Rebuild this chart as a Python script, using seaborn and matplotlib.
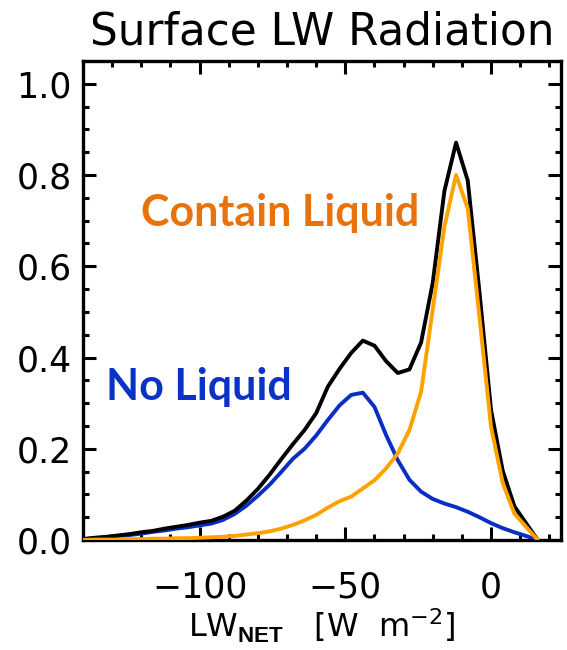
import numpy as np
import pandas as pd
import matplotlib
matplotlib.use("Agg")
import matplotlib.pyplot as plt
import seaborn as sns
from matplotlib.ticker import MultipleLocator

# ---- data (bin centres every 4 W m-2) ----
lw_net = list(range(-140, 17, 4))
total = [0.002, 0.005, 0.007, 0.010, 0.013, 0.017, 0.020, 0.025, 0.029, 0.033,
         0.038, 0.042, 0.051, 0.064, 0.086, 0.112, 0.143, 0.177, 0.210, 0.241,
         0.278, 0.336, 0.375, 0.410, 0.437, 0.426, 0.392, 0.366, 0.374, 0.433,
         0.564, 0.765, 0.871, 0.788, 0.545, 0.285, 0.152, 0.074, 0.037, 0.0]
no_liquid = [0.002, 0.004, 0.006, 0.009, 0.011, 0.014, 0.018, 0.021, 0.025, 0.028,
             0.032, 0.036, 0.044, 0.057, 0.075, 0.097, 0.121, 0.149, 0.178, 0.200,
             0.229, 0.263, 0.295, 0.318, 0.323, 0.292, 0.230, 0.175, 0.132, 0.106,
             0.090, 0.080, 0.072, 0.062, 0.050, 0.037, 0.026, 0.017, 0.009, 0.0]
contain_liquid = [0.000, 0.001, 0.001, 0.001, 0.002, 0.002, 0.003, 0.003, 0.004, 0.004,
                  0.005, 0.006, 0.007, 0.009, 0.012, 0.015, 0.019, 0.025, 0.033, 0.043,
                  0.055, 0.071, 0.085, 0.095, 0.113, 0.131, 0.157, 0.190, 0.241, 0.325,
                  0.506, 0.687, 0.800, 0.727, 0.490, 0.248, 0.125, 0.058, 0.029, 0.0]

title = "Surface LW Radiation"
xlabel = r"LW$_{\mathbf{NET}}$   [W  m$^{-2}$]"
label_contain = "Contain Liquid"
label_no = "No Liquid"
xticks = [-100, -50, 0]
yticks = [0.0, 0.2, 0.4, 0.6, 0.8, 1.0]

sns.set_style("ticks")
plt.rcParams["font.family"] = ["DejaVu Sans"]
plt.rcParams["text.color"] = "black"
plt.rcParams["axes.labelcolor"] = "black"
plt.rcParams["xtick.color"] = "black"
plt.rcParams["ytick.color"] = "black"
plt.rcParams["mathtext.fontset"] = "custom"
plt.rcParams["mathtext.rm"] = "DejaVu Sans"
plt.rcParams["mathtext.bf"] = "Liberation Sans:bold"

df = pd.DataFrame({"x": lw_net, "total": total, "no": no_liquid, "contain": contain_liquid})

fig = plt.figure(figsize=(5.67, 6.5), dpi=100)
ax = fig.add_axes([0.1464, 0.1692, 0.8430, 0.7370])

lw = 2.8
sns.lineplot(data=df, x="x", y="total", ax=ax, color="black", linewidth=lw, zorder=3)
sns.lineplot(data=df, x="x", y="no", ax=ax, color="#0A2EC4", linewidth=lw, zorder=2)
sns.lineplot(data=df, x="x", y="contain", ax=ax, color="#FFA200", linewidth=lw, zorder=4)

ax.set_xlim(-140, 24)
ax.set_ylim(0, 1.05)
ax.set_xticks(xticks)
ax.set_yticks(yticks)
ax.set_yticklabels([f"{v:.1f}" for v in yticks])
ax.xaxis.set_minor_locator(MultipleLocator(10))
ax.yaxis.set_minor_locator(MultipleLocator(0.05))
ax.tick_params(which="both", direction="in", top=True, right=True, width=2.2,
               color="black", labelcolor="black")
ax.tick_params(which="major", length=9.5, labelsize=25, pad=8)
ax.tick_params(which="minor", length=4.5)
ax.tick_params(axis="x", which="major", pad=22)
for s in ax.spines.values():
    s.set_linewidth(2.4)
    s.set_color("black")

ax.set_xlabel(xlabel, fontsize=23, labelpad=2, color="black")
ax.set_ylabel("")
ax.set_title(title, fontsize=31.5, pad=12, color="black")

ax.text(-120, 0.717, label_contain, color="#E8720C", fontsize=31, fontweight="bold",
        family=["Lato", "DejaVu Sans"], va="center", ha="left")
ax.text(-132, 0.335, label_no, color="#0A32C8", fontsize=31, fontweight="bold",
        family=["Lato", "DejaVu Sans"], va="center", ha="left")

fig.savefig("out.png", dpi=100)
